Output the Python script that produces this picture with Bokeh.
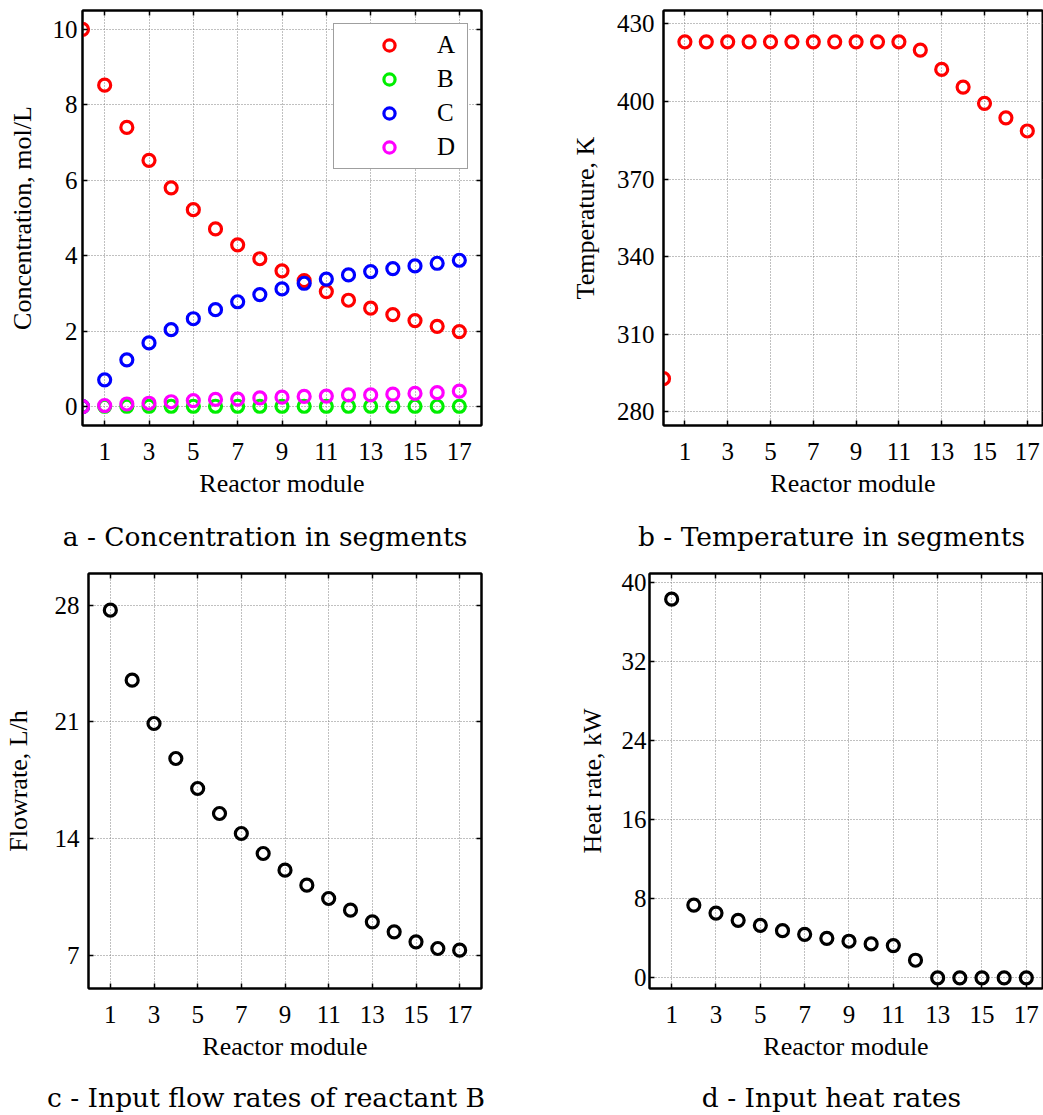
from bokeh.plotting import figure
from bokeh.models import (Range1d, LinearAxis, FixedTicker, Legend, LegendItem, Div,
                          CustomJSTickFormatter)
from bokeh.layouts import column, row
from bokeh.embed import file_html
from bokeh.resources import INLINE

# ---------------- data ----------------
modules_all = list(range(0, 18))       # 0 = inlet, 1..17 reactor modules
modules = list(range(1, 18))
x_ticks = [1, 3, 5, 7, 9, 11, 13, 15, 17]

conc_A = [10.0, 8.52, 7.40, 6.53, 5.80, 5.22, 4.71, 4.29, 3.92, 3.60, 3.34, 3.05, 2.82, 2.61, 2.44, 2.28, 2.13, 1.99]
conc_B = [0.0, 0.01, 0.01, 0.01, 0.01, 0.01, 0.01, 0.01, 0.01, 0.01, 0.01, 0.01, 0.01, 0.01, 0.01, 0.01, 0.01, 0.01]
conc_C = [0.0, 0.71, 1.24, 1.69, 2.04, 2.33, 2.57, 2.78, 2.97, 3.12, 3.27, 3.38, 3.49, 3.58, 3.66, 3.73, 3.80, 3.88]
conc_D = [0.0, 0.03, 0.07, 0.09, 0.13, 0.16, 0.19, 0.20, 0.23, 0.25, 0.27, 0.28, 0.31, 0.31, 0.33, 0.35, 0.37, 0.41]
conc_ticks = [0, 2, 4, 6, 8, 10]

temperature = [292.8, 423.1, 423.1, 423.1, 423.1, 423.1, 423.1, 423.1, 423.1, 423.1, 423.1, 423.1,
               419.9, 412.4, 405.6, 399.3, 393.7, 388.6]
temp_ticks = [280, 310, 340, 370, 400, 430]

flowrate_B = [27.7, 23.5, 20.9, 18.8, 17.0, 15.5, 14.3, 13.1, 12.1, 11.2, 10.4, 9.7, 9.0, 8.4, 7.8, 7.4, 7.3]
flow_ticks = [7, 14, 21, 28]

heat_rate = [38.3, 7.36, 6.55, 5.82, 5.31, 4.77, 4.40, 4.00, 3.70, 3.43, 3.26, 1.78, 0.0, 0.0, 0.0, 0.0, 0.0]
heat_ticks = [0, 8, 16, 24, 32, 40]

captions = ["a - Concentration in segments", "b - Temperature in segments",
            "c - Input flow rates of reactant B", "d - Input heat rates"]

AX_FONT = "Liberation Serif"
CAP_FONT = "DejaVu Serif"


def style_axis(ax):
    ax.major_tick_in = 5
    ax.major_tick_out = 0
    ax.minor_tick_line_color = None
    ax.axis_line_width = 2
    ax.axis_line_color = "black"
    ax.major_tick_line_width = 1.5
    ax.major_tick_line_color = "black"
    ax.major_label_text_font = AX_FONT
    ax.major_label_text_font_size = "25px"
    ax.major_label_text_color = "black"
    ax.axis_label_text_font = AX_FONT
    ax.axis_label_text_font_size = "26px"
    ax.axis_label_text_font_style = "normal"
    ax.axis_label_text_color = "black"


def make_fig(width, height, left, right, top, bottom, xend, yr, yticks, ylabel,
             ylab_standoff, tick_standoff, box_right=True):
    p = figure(width=width, height=height, output_backend="svg", toolbar_location=None,
               x_range=Range1d(0, xend), y_range=Range1d(*yr),
               min_border_left=left, min_border_right=right,
               min_border_top=top, min_border_bottom=bottom)
    p.background_fill_color = "white"
    p.border_fill_color = "white"
    p.outline_line_color = "black"
    p.outline_line_width = 2
    p.xaxis.ticker = FixedTicker(ticks=x_ticks)
    p.yaxis.ticker = FixedTicker(ticks=yticks)
    p.xaxis.axis_label = "Reactor module"
    p.yaxis.axis_label = ylabel
    for ax in p.axis:
        style_axis(ax)
    p.xaxis.major_label_standoff = 17
    p.xaxis.axis_label_standoff = 6
    p.yaxis.major_label_standoff = tick_standoff
    p.yaxis.axis_label_standoff = ylab_standoff
    for g in (p.xgrid, p.ygrid):
        g.grid_line_color = "#808080"
        g.grid_line_dash = "1 2"
        g.grid_line_width = 1
    # box ticks on the top (and right)
    empty = CustomJSTickFormatter(code="return ''")
    top_ax = LinearAxis(ticker=FixedTicker(ticks=x_ticks), formatter=empty,
                        major_label_standoff=0)
    style_axis(top_ax)
    p.add_layout(top_ax, "above")
    if box_right:
        r_ax = LinearAxis(ticker=FixedTicker(ticks=yticks), formatter=empty,
                          major_label_standoff=0)
        style_axis(r_ax)
        p.add_layout(r_ax, "right")
    return p


def caption_div(text, width, height, shift, pad_top):
    html = ('<div style="width:%dpx; text-align:center; margin-left:%dpx; padding-top:%dpx; '
            'font-family:\'%s\'; font-size:26.5px; line-height:30px; color:black; '
            'white-space:nowrap;">%s</div>' % (width, shift, pad_top, CAP_FONT, text))
    return Div(text=html, width=width, height=height, margin=0)


MS = 12
LW = 3.2

# a - concentration
pa = make_fig(560, 510, 82, 79, 10, 85, 18, (-0.5, 10.5), conc_ticks,
              "Concentration, mol/L", 13, 5)
rA = pa.scatter(modules_all, conc_A, size=MS, line_width=LW, line_color="#ff0000", fill_color=None)
rB = pa.scatter(modules_all, conc_B, size=MS, line_width=LW, line_color="#00ee00", fill_color=None)
rC = pa.scatter(modules_all, conc_C, size=MS, line_width=LW, line_color="#0000ff", fill_color=None)
rD = pa.scatter(modules_all, conc_D, size=MS, line_width=LW, line_color="#ff00ff", fill_color=None)
leg = Legend(items=[LegendItem(label="A", renderers=[rA]), LegendItem(label="B", renderers=[rB]),
                    LegendItem(label="C", renderers=[rC]), LegendItem(label="D", renderers=[rD])],
             location="top_right", margin=13, padding=7, spacing=6,
             glyph_width=96, glyph_height=28, label_height=28, label_width=23, label_standoff=0,
             label_text_font=AX_FONT, label_text_font_size="25px", label_text_color="black",
             border_line_color="#404040", border_line_width=1.5,
             background_fill_color="white", background_fill_alpha=1)
pa.add_layout(leg)

# b - temperature
pb = make_fig(483, 510, 103, 1, 10, 84, 17.71, (274.7, 435.2), temp_ticks,
              "Temperature, K", 14, 9, box_right=False)
pb.scatter(modules_all, temperature, size=MS, line_width=LW, line_color="#ff0000", fill_color=None)

# c - flowrate
pc = make_fig(560, 509, 83, 79, 13, 81, 18, (5.0, 29.9), flow_ticks,
              "Flowrate, L/h", 19, 9)
pc.scatter(modules, flowrate_B, size=MS, line_width=LW, line_color="black", fill_color=None)

# d - heat rate
pd = make_fig(483, 509, 89, 1, 13, 80, 17.73, (-1.08, 40.9), heat_ticks,
              "Heat rate, kW", 12, 3, box_right=False)
pd.scatter(modules, heat_rate, size=MS, line_width=LW, line_color="black", fill_color=None)

cap_a = caption_div(captions[0], 560, 50, -15, 12)
cap_b = caption_div(captions[1], 483, 50, 30, 12)
cap_c = caption_div(captions[2], 560, 46, -14, 14)
cap_d = caption_div(captions[3], 483, 46, 30, 14)

layout = column(row(pa, pb), row(cap_a, cap_b), row(pc, pd), row(cap_c, cap_d))
open("out.html", "w").write(file_html(layout, INLINE))
